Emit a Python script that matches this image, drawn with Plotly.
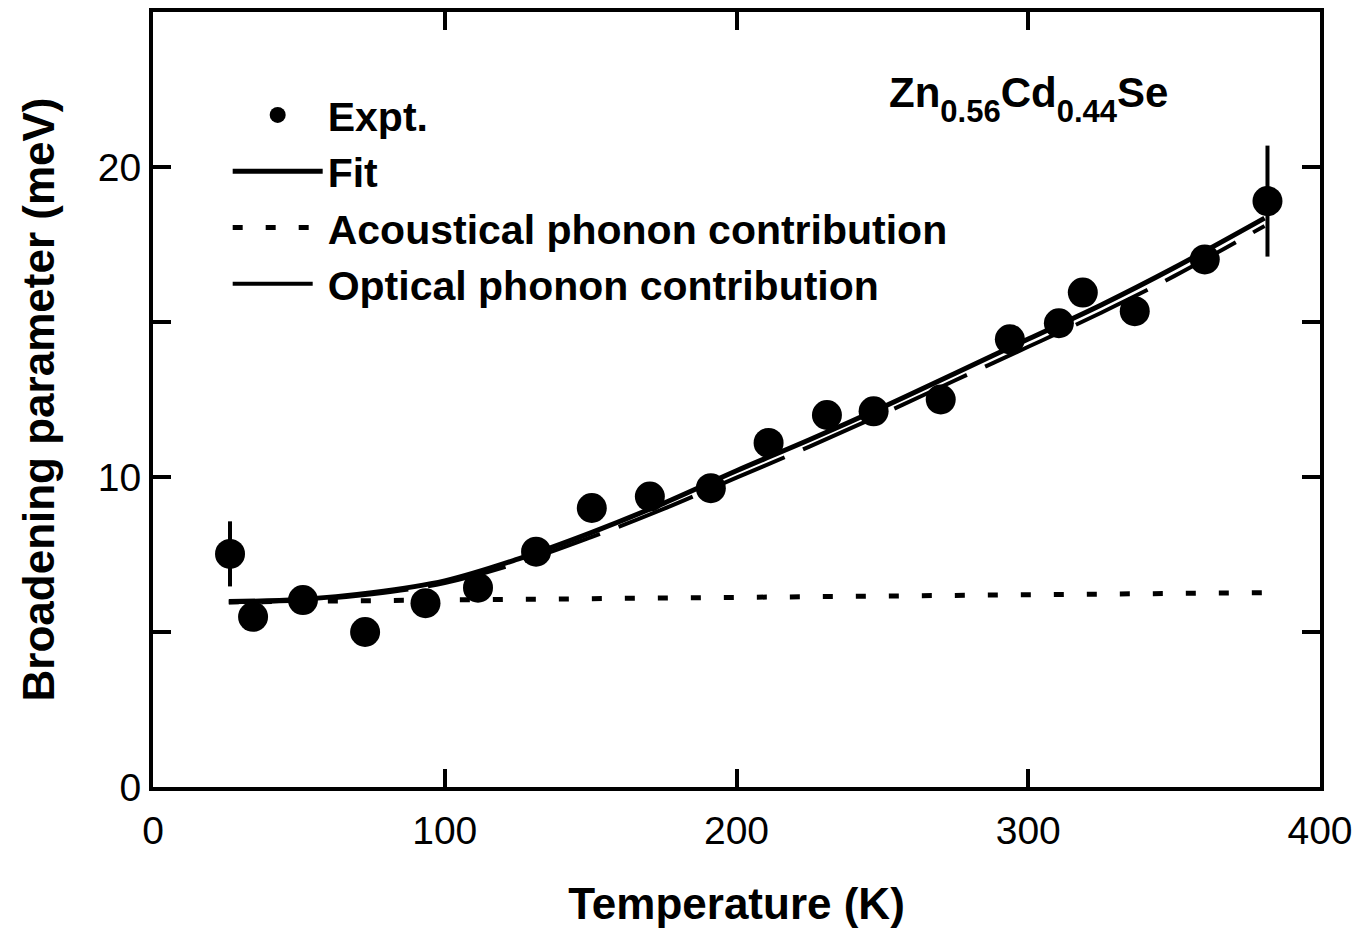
import plotly.graph_objects as go

# Experimental data (T in K, broadening in meV)
expt_T = [26.4, 34.3, 51.4, 72.7, 93.4, 111.4, 131.3, 150.4, 170.3, 191.2,
          211.0, 231.0, 247.0, 270.0, 293.7, 310.5, 318.7, 336.5, 360.5, 382.0]
expt_G = [7.52, 5.49, 6.03, 5.00, 5.93, 6.43, 7.59, 9.00, 9.37, 9.64,
          11.10, 12.00, 12.12, 12.50, 14.44, 14.96, 15.95, 15.35, 17.02, 18.90]
expt_err = [1.05, 0, 0, 0, 0, 0, 0, 0, 0, 0,
            0, 0, 0, 0, 0, 0, 0, 0, 0, 1.79]

# Fit curve
fit_T = [26, 50, 75, 100, 125, 150, 175, 200, 225, 250, 275, 300, 325, 350, 381]
fit_G = [5.98, 6.05, 6.27, 6.65, 7.35, 8.20, 9.15, 10.20, 11.20, 12.25, 13.35, 14.45, 15.55, 16.75, 18.35]

# Optical phonon contribution
opt_T = [26, 50, 75, 100, 125, 150, 175, 200, 225, 250, 275, 300, 325, 350, 381]
opt_G = [5.96, 6.02, 6.22, 6.58, 7.22, 8.05, 8.97, 9.98, 10.98, 12.03, 13.12, 14.20, 15.30, 16.48, 18.10]

# Acoustical phonon contribution
ac_T = [26, 381]
ac_G = [5.97, 6.27]

x_ticks = [0, 100, 200, 300, 400]
y_ticks = [0, 10, 20]

FONT = "Liberation Sans, Arial, sans-serif"

fig = go.Figure()
fig.add_trace(go.Scatter(
    x=expt_T, y=expt_G, mode="markers", name="<b>Expt.</b>",
    marker=dict(size=30, color="black"),
    error_y=dict(type="data", array=expt_err, visible=True, thickness=4, width=0, color="black"),
))
fig.add_trace(go.Scatter(
    x=fit_T, y=fit_G, mode="lines", name="<b>Fit</b>",
    line=dict(color="black", width=5, shape="spline"),
))
fig.add_trace(go.Scatter(
    x=ac_T, y=ac_G, mode="lines", name="<b>Acoustical phonon contribution</b>",
    line=dict(color="black", width=5, dash="10px,23px"),
))
fig.add_trace(go.Scatter(
    x=opt_T, y=opt_G, mode="lines", name="<b>Optical phonon contribution</b>",
    line=dict(color="black", width=4, dash="80px,20px", shape="spline"),
))

fig.add_annotation(
    x=300, y=22.2, xref="x", yref="y",
    text=("<b>Zn<sub><sub><span style='font-size:31px'>0.56</span></sub></sub>"
          "Cd<sub><sub><span style='font-size:31px'>0.44</span></sub></sub>Se</b>"),
    showarrow=False, font=dict(family=FONT, size=42, color="black"),
    xanchor="center", yanchor="middle",
)

axis_common = dict(
    showline=True, linewidth=4, linecolor="black", mirror="ticks",
    ticks="inside", ticklen=18, tickwidth=4, tickcolor="black",
    showgrid=False, zeroline=False, automargin=False,
    tickfont=dict(family=FONT, size=39, color="black"),
)

fig.update_layout(
    width=1361, height=928,
    margin=dict(l=153, r=41, t=12, b=141),
    paper_bgcolor="white", plot_bgcolor="white",
    font=dict(family=FONT, color="black"),
    showlegend=True,
    legend=dict(
        x=0.064, y=0.91, xanchor="left", yanchor="top",
        font=dict(family=FONT, size=41, color="black"),
        bgcolor="rgba(0,0,0,0)", itemwidth=90, tracegroupgap=0,
    ),
    xaxis=dict(
        range=[0, 400], tickvals=x_ticks, ticklabelstandoff=6,
        title=dict(text="<b>Temperature (K)</b>", font=dict(family=FONT, size=44), standoff=40),
        **axis_common,
    ),
    yaxis=dict(
        range=[0, 25], tickvals=y_ticks,
        minor=dict(dtick=5, ticklen=18, tickwidth=4, ticks="inside", tickcolor="black", showgrid=False),
        title=dict(text="<b>Broadening parameter (meV)</b>", font=dict(family=FONT, size=44), standoff=30),
        **axis_common,
    ),
)

fig.write_html("out.html")
